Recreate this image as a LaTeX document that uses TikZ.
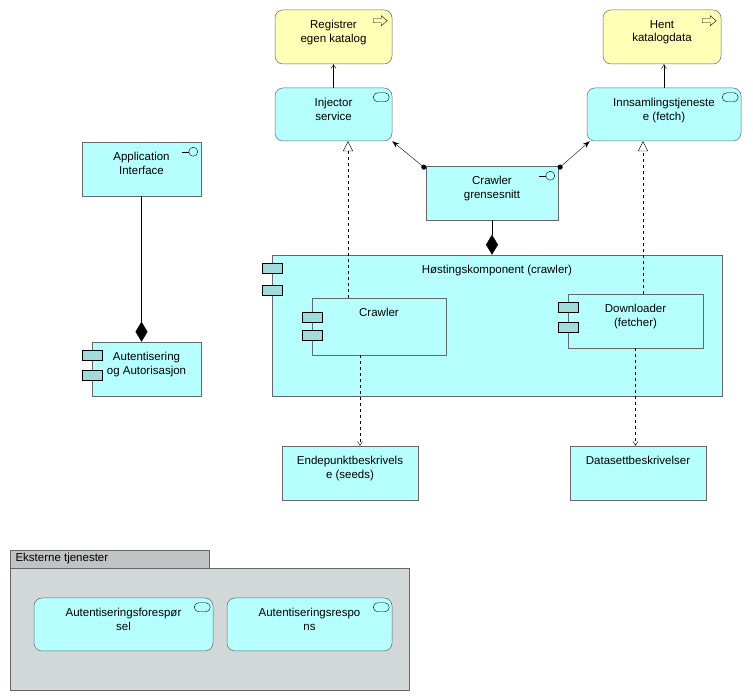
\documentclass[tikz,border=0pt]{standalone}
\usepackage{fontspec}
\setmainfont{Liberation Sans}
\usetikzlibrary{arrows.meta}
\definecolor{appcol}{HTML}{B5FFFF}
\definecolor{evtcol}{HTML}{FFFFB5}
\definecolor{grpcol}{HTML}{D2D7D7}
\definecolor{tabcol}{HTML}{BFC3C3}
\definecolor{compcol}{HTML}{A0DCDC}
\tikzset{
  elem/.style={draw=black!60, line width=0.5pt, inner sep=0pt, font=\fontsize{11.5}{13.5}\selectfont},
  app_box/.style={elem, fill=appcol},
  svc_box/.style={app_box, rounded corners=8pt},
  evt_box/.style={elem, fill=evtcol, rounded corners=8pt},
  data_box/.style={app_box},
  txt/.style={label={[align=center, anchor=north, yshift=-7pt, font=\fontsize{11.5}{13.5}\selectfont]north:#1}},
  assign/.style={-{Stealth[length=7pt,width=5pt]}, {Circle[length=5pt]}-{Stealth[length=7pt,width=5pt]}},
  realize/.style={dashed, -{Triangle[open,length=10pt,width=10pt]}},
  access/.style={dashed, -{Straight Barb[length=4pt,width=5pt]}},
  trigger/.style={-{Straight Barb[length=4pt,width=5pt]}},
  compose/.style={-{Diamond[length=20pt,width=12pt]}},
}
\newcommand{\svcicon}[1]{\draw[rounded corners=4.5pt] ([xshift=-19pt,yshift=-5pt]#1.north east) rectangle ++(16,-9);}
\newcommand{\ificon}[1]{\draw ([xshift=-8pt,yshift=-10pt]#1.north east) circle (4.5pt);
  \draw ([xshift=-12.5pt,yshift=-10pt]#1.north east) -- ++(-7,0);}
\newcommand{\evticon}[1]{\draw ([xshift=-19pt,yshift=-9pt]#1.north east) -- ++(8,0) -- ++(0,3) -- ++(6,-5) -- ++(-6,-5) -- ++(0,3) -- ++(-8,0) -- cycle;}
\newcommand{\compicon}[3]{\draw[fill=compcol] ([xshift=-10pt,yshift=-#2]#1.north west) rectangle ++(20,-10);
  \draw[fill=compcol] ([xshift=-10pt,yshift=-#3]#1.north west) rectangle ++(20,-10);}
\begin{document}
\begin{tikzpicture}[x=1pt,y=1pt]
\useasboundingbox (0,0) rectangle (753,700);
% group
\draw[draw=black!60, fill=tabcol] (10,150) rectangle (209,132);
\draw[draw=black!60, fill=grpcol] (10,132) rectangle (409,10);
\node[anchor=west, font=\fontsize{11.5}{13.5}\selectfont] (grp) at (12,141) {Eksterne tjenester};
% events
\node[evt_box, minimum width=117pt, minimum height=54pt, txt={Registrer\\egen katalog}] (reg) at (333.5,663) {};
\node[evt_box, minimum width=118pt, minimum height=54pt, txt={Hent\\katalogdata}] (hent) at (662,663) {};
\evticon{reg} \evticon{hent}
% services
\node[svc_box, minimum width=117pt, minimum height=53pt, txt={Injector\\service}] (inj) at (333.5,585.5) {};
\node[svc_box, minimum width=154pt, minimum height=53pt, txt={Innsamlingstjeneste\\e (fetch)}] (inns) at (664,585.5) {};
\node[svc_box, minimum width=179pt, minimum height=53pt, txt={Autentiseringsforespør\\sel}] (forsp) at (123.5,75.5) {};
\node[svc_box, minimum width=165pt, minimum height=53pt, txt={Autentiseringsrespo\\ns}] (resp) at (309.5,75.5) {};
\svcicon{inj} \svcicon{inns} \svcicon{forsp} \svcicon{resp}
% interfaces
\node[app_box, minimum width=119pt, minimum height=54pt, txt={Application\\Interface}] (app) at (141.5,531) {};
\node[app_box, minimum width=132pt, minimum height=54pt, txt={Crawler\\grensesnitt}] (grens) at (492,507) {};
\ificon{app} \ificon{grens}
% components
\node[app_box, minimum width=450pt, minimum height=141pt, txt={Høstingskomponent (crawler)}] (host) at (497,374.5) {};
\node[app_box, minimum width=134pt, minimum height=57pt, txt={Crawler}] (crawl) at (379,373.5) {};
\node[app_box, minimum width=135pt, minimum height=54pt, txt={Downloader\\(fetcher)}] (down) at (635.5,379) {};
\node[app_box, minimum width=109pt, minimum height=54pt, txt={Autentisering\\og Autorisasjon}] (aut) at (146.5,331) {};
\compicon{host}{8pt}{30pt} \compicon{crawl}{14pt}{32pt}
\compicon{down}{8pt}{28pt} \compicon{aut}{8pt}{28pt}
% data
\node[data_box, minimum width=136pt, minimum height=54pt, txt={Endepunktbeskrivels\\e (seeds)}] (endep) at (350,227) {};
\node[data_box, minimum width=136pt, minimum height=54pt, txt={Datasettbeskrivelser}] (data) at (638,227) {};
% connectors
\draw[trigger] (inj.north) -- (reg.south);
\draw[trigger] (inns.north) -- (inns.north |- hent.south);
\draw[assign] ([yshift=-3pt]grens.north west) -- (inj.south east);
\draw[assign] ([yshift=-3pt]grens.north east) -- ([xshift=3pt]inns.south west);
\draw[compose] (grens.south) -- (grens.south |- host.north);
\draw[compose] (app.south) -- (app.south |- aut.north);
\draw[realize] ([xshift=-31pt]crawl.north) -- ([xshift=-31pt]crawl.north |- inj.south);
\draw[realize] ([xshift=7.5pt]down.north) -- ([xshift=7.5pt]down.north |- inns.south);
\draw[access] ([xshift=-19pt]crawl.south) -- ([xshift=-19pt]crawl.south |- endep.north);
\draw[access] (down.south) -- (down.south |- data.north);
\end{tikzpicture}
\end{document}
